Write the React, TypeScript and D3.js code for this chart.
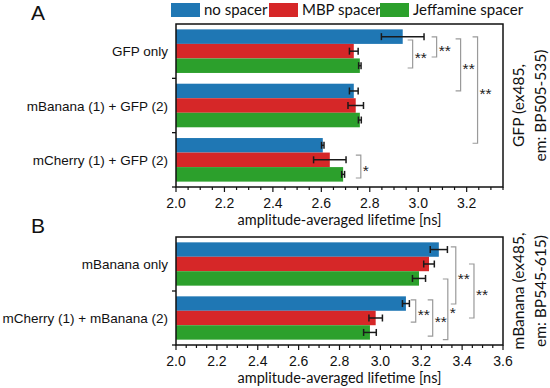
import React from "react";
import * as d3 from "d3";

// ---------- data ----------
const seriesNames = ["no spacer", "MBP spacer", "Jeffamine spacer"];
const seriesColors = ["#1f77b4", "#d62728", "#2ca02c"];

const categoriesA = ["GFP only", "mBanana (1) + GFP (2)", "mCherry (1) + GFP (2)"];
const noSpacerA = [2.936, 2.734, 2.606];
const mbpA = [2.734, 2.742, 2.635];
const jeffA = [2.759, 2.759, 2.69];
const noSpacerErrA = [0.088, 0.018, 0.005];
const mbpErrA = [0.018, 0.032, 0.067];
const jeffErrA = [0.005, 0.006, 0.006];

const categoriesB = ["mBanana only", "mCherry (1) + mBanana (2)"];
const noSpacerB = [3.286, 3.125];
const mbpB = [3.238, 2.977];
const jeffB = [3.189, 2.949];
const noSpacerErrB = [0.042, 0.017];
const mbpErrB = [0.026, 0.033];
const jeffErrB = [0.032, 0.031];

const ticksA = ["2.0", "2.2", "2.4", "2.6", "2.8", "3.0", "3.2"];
const ticksB = ["2.0", "2.2", "2.4", "2.6", "2.8", "3.0", "3.2", "3.4", "3.6"];

// significance brackets: [cat, series, frac] start -> end, x in data units
const bracketsA = [
  { c1: 0, s1: 0, f1: 0.73, c2: 0, s2: 2, f2: 0.66, x: 2.977, label: "**" },
  { c1: 0, s1: 0, f1: 0.52, c2: 0, s2: 1, f2: 0.9, x: 3.076, label: "**" },
  { c1: 0, s1: 0, f1: 0.66, c2: 1, s2: 0, f2: 0.5, x: 3.175, label: "**" },
  { c1: 0, s1: 0, f1: 0.52, c2: 2, s2: 0, f2: 0.36, x: 3.245, label: "**" },
  { c1: 2, s1: 1, f1: 0.17, c2: 2, s2: 2, f2: 0.75, x: 2.763, label: "*" },
];
const bracketsB = [
  { c1: 0, s1: 0, f1: 0.32, c2: 1, s2: 0, f2: 0.53, x: 3.369, label: "**" },
  { c1: 0, s1: 1, f1: 0.5, c2: 1, s2: 1, f2: 0.5, x: 3.458, label: "**" },
  { c1: 0, s1: 2, f1: 0.54, c2: 1, s2: 2, f2: 1.0, x: 3.33, label: "*" },
  { c1: 1, s1: 0, f1: 0.25, c2: 1, s2: 2, f2: 0.75, x: 3.256, label: "**" },
  { c1: 1, s1: 0, f1: 0.25, c2: 1, s2: 1, f2: 0.78, x: 3.173, label: "**" },
];

const SANS = "'Liberation Sans', Arial, sans-serif";
const HUMAN = "Lato, 'Open Sans', sans-serif";

type Panel = {
  cats: string[];
  vals: number[][];
  errs: number[][];
  ticks: string[];
  domain: [number, number];
  top: number;
  bottom: number;
  brackets: typeof bracketsA;
  letter: string;
  right: [string, string];
};

const LEFT = 176;
const RIGHT = 503;

function PanelView({ p }: { p: Panel }) {
  const x = d3.scaleLinear().domain(p.domain).range([LEFT, RIGHT]);
  const yCat = d3.scaleBand<number>().domain(d3.range(p.cats.length)).range([p.top, p.bottom]).padding(0);
  const ySer = d3
    .scaleBand<number>()
    .domain(d3.range(seriesNames.length))
    .range([0, yCat.bandwidth()])
    .paddingInner(0)
    .paddingOuter(0.37);
  const bw = ySer.bandwidth();
  const barY = (c: number, s: number) => (yCat(c) as number) + (ySer(s) as number);

  const minor = d3.range(Math.round(p.domain[0] * 20), Math.round(p.domain[1] * 20) + 1).map((v) => v / 20);
  const cy = (p.top + p.bottom) / 2;
  const cx = (LEFT + RIGHT) / 2;

  return (
    <g>
      <text x={31} y={p.top - 4} fontFamily={SANS} fontSize={21} fill="#111">
        {p.letter}
      </text>
      {/* bars */}
      {p.cats.map((_, c) =>
        seriesNames.map((_, s) => (
          <rect
            key={`b${c}-${s}`}
            x={x(p.domain[0])}
            y={barY(c, s)}
            width={x(p.vals[s][c]) - x(p.domain[0])}
            height={bw}
            fill={seriesColors[s]}
          />
        ))
      )}
      {/* error bars */}
      {p.cats.map((_, c) =>
        seriesNames.map((_, s) => {
          const v = p.vals[s][c];
          const e = p.errs[s][c];
          const yc = barY(c, s) + bw / 2;
          const x1 = x(v - e);
          const x2 = x(v + e);
          return (
            <g key={`e${c}-${s}`} stroke="#1a1a1a" strokeWidth={1.5}>
              <line x1={x1} x2={x2} y1={yc} y2={yc} />
              <line x1={x1} x2={x1} y1={yc - 3.5} y2={yc + 3.5} />
              <line x1={x2} x2={x2} y1={yc - 3.5} y2={yc + 3.5} />
            </g>
          );
        })
      )}
      {/* frame */}
      <rect x={LEFT} y={p.top} width={RIGHT - LEFT} height={p.bottom - p.top} fill="none" stroke="#111" strokeWidth={1.5} />
      {/* category ticks */}
      {p.cats.map((_, c) => {
        const yb = (yCat(c) as number) + yCat.bandwidth();
        return <line key={`ct${c}`} x1={LEFT - 4} x2={LEFT} y1={yb} y2={yb} stroke="#111" strokeWidth={1.3} />;
      })}
      {/* category labels */}
      {p.cats.map((name, c) => (
        <text
          key={`cl${c}`}
          x={168}
          y={(yCat(c) as number) + yCat.bandwidth() / 2 + 5}
          textAnchor="end"
          fontFamily={SANS}
          fontSize={13.5}
          fill="#111"
        >
          {name}
        </text>
      ))}
      {/* x ticks */}
      {minor.map((v, i) => {
        const major = Math.abs(v * 5 - Math.round(v * 5)) < 1e-6;
        return (
          <line
            key={`mt${i}`}
            x1={x(v)}
            x2={x(v)}
            y1={p.bottom}
            y2={p.bottom + (major ? 5 : 3)}
            stroke="#111"
            strokeWidth={1.2}
          />
        );
      })}
      {p.ticks.map((t) => (
        <text
          key={`tl${t}`}
          x={x(+t)}
          y={p.bottom + 21}
          textAnchor="middle"
          fontFamily={SANS}
          fontSize={14}
          fill="#111"
        >
          {t}
        </text>
      ))}
      <text x={cx} y={p.bottom + 38} textAnchor="middle" fontFamily={HUMAN} fontSize={14.5} fill="#111">
        amplitude-averaged lifetime [ns]
      </text>
      {/* brackets */}
      {p.brackets.map((b, i) => {
        const y1 = barY(b.c1, b.s1) + b.f1 * bw;
        const y2 = barY(b.c2, b.s2) + b.f2 * bw;
        const bx = x(b.x);
        return (
          <g key={`br${i}`}>
            <path
              d={`M${bx - 5},${y1}H${bx}V${y2}H${bx - 5}`}
              fill="none"
              stroke="#9a9a9a"
              strokeWidth={1.2}
            />
            <text x={bx + 2} y={(y1 + y2) / 2 + 9} fontFamily={SANS} fontSize={15.5} fill="#222">
              {b.label}
            </text>
          </g>
        );
      })}
      {/* right label */}
      <text transform={`translate(524,${cy}) rotate(-90)`} textAnchor="middle" fontFamily={HUMAN} fontSize={15.5} fill="#111">
        {p.right[0]}
      </text>
      <text transform={`translate(546,${cy}) rotate(-90)`} textAnchor="middle" fontFamily={HUMAN} fontSize={15.5} fill="#111">
        {p.right[1]}
      </text>
    </g>
  );
}

export default function App() {
  const panelA: Panel = {
    cats: categoriesA,
    vals: [noSpacerA, mbpA, jeffA],
    errs: [noSpacerErrA, mbpErrA, jeffErrA],
    ticks: ticksA,
    domain: [2.0, 3.35],
    top: 24,
    bottom: 187,
    brackets: bracketsA,
    letter: "A",
    right: ["GFP (ex485,", "em: BP505-535)"],
  };
  const panelB: Panel = {
    cats: categoriesB,
    vals: [noSpacerB, mbpB, jeffB],
    errs: [noSpacerErrB, mbpErrB, jeffErrB],
    ticks: ticksB,
    domain: [2.0, 3.6],
    top: 237,
    bottom: 345,
    brackets: bracketsB,
    letter: "B",
    right: ["mBanana (ex485,", "em: BP545-615)"],
  };
  const legendX = [171, 269, 380];
  return (
    <svg width={550} height={388} style={{ position: "absolute", left: 0, top: 0, background: "#fff" }}>
      <rect width={550} height={388} fill="#fff" />
      {seriesNames.map((name, i) => (
        <g key={name}>
          <rect x={legendX[i]} y={3} width={29} height={14} fill={seriesColors[i]} />
          <text x={legendX[i] + 33} y={15} fontFamily={HUMAN} fontSize={15} fill="#111">
            {name}
          </text>
        </g>
      ))}
      <PanelView p={panelA} />
      <PanelView p={panelB} />
    </svg>
  );
}
